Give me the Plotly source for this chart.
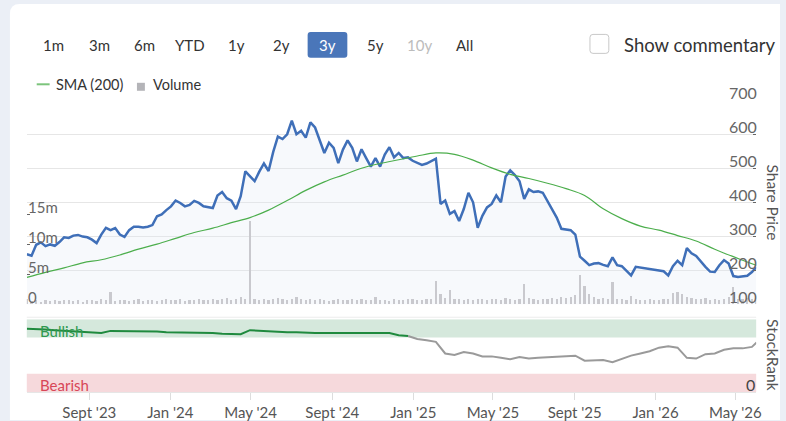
import pandas as pd
import plotly.graph_objects as go

W, H = 786, 421

# ---------------- data ----------------
dates = pd.date_range("2023-05-30", periods=158, freq="7D")

price = [247, 243, 275, 282, 271, 276, 272, 283, 297, 295,
         302, 304, 299, 297, 290, 280, 305, 325, 318, 324,
         305, 298, 318, 328, 328, 326, 328, 333, 359, 364,
         377, 388, 405, 398, 388, 392, 404, 398, 388, 385,
         383, 420, 430, 412, 405, 380, 418, 491, 478, 462,
         490, 514, 492, 548, 593, 586, 600, 640, 600, 610,
         590, 635, 620, 585, 545, 575, 560, 515, 555, 582,
         560, 520, 556, 530, 505, 530, 505, 540, 562, 532,
         545, 530, 532, 522, 515, 510, 514, 520, 528, 395,
         405, 366, 374, 345, 380, 428, 400, 325, 360, 385,
         395, 420, 400, 476, 494, 480, 462, 410, 438, 430,
         432, 428, 405, 380, 355, 322, 320, 318, 305, 240,
         228, 215, 220, 221, 216, 212, 238, 215, 212, 198,
         185, 210, 208, 205, 203, 202, 200, 197, 185, 212,
         228, 215, 265, 250, 242, 225, 210, 196, 195, 215,
         230, 220, 183, 180, 182, 184, 195, 210]

volume_m = [0.8, 0.5, 0.6, 0.4, 0.7, 0.5, 0.6, 0.5, 0.7, 0.6,
            0.5, 0.6, 0.4, 0.7, 0.6, 0.5, 0.8, 0.6, 2.0, 0.5,
            0.6, 0.7, 0.5, 0.6, 0.8, 0.5, 0.6, 0.7, 0.5, 0.6,
            0.9, 0.7, 0.6, 0.8, 0.5, 0.7, 0.6, 0.8, 0.7, 0.6,
            0.9, 0.7, 0.8, 1.0, 0.7, 0.8, 1.1, 0.9, 13.8, 0.8,
            0.7, 0.9, 0.6, 0.8, 1.0, 0.8, 0.7, 0.9, 1.2, 0.8,
            0.7, 0.9, 0.6, 0.8, 0.7, 0.5, 0.6, 0.8, 0.7, 0.6,
            0.9, 0.7, 0.8, 0.6, 0.7, 1.2, 0.6, 0.7, 0.5, 0.8,
            0.6, 0.7, 0.9, 0.8, 0.7, 0.6, 0.8, 0.9, 3.8, 1.6,
            1.0, 2.3, 0.8, 0.9, 0.7, 0.8, 0.6, 0.9, 0.8, 0.7,
            0.8, 0.9, 0.7, 1.0, 0.8, 0.7, 0.9, 3.3, 1.0, 0.8,
            0.7, 0.9, 0.8, 1.0, 0.9, 1.1, 1.0, 1.2, 1.5, 4.8,
            3.0, 1.6, 1.2, 0.9, 1.0, 0.8, 3.7, 0.9, 0.8, 0.7,
            1.3, 0.8, 0.7, 0.6, 0.8, 0.7, 0.6, 0.9, 0.8, 1.8,
            2.0, 1.6, 1.2, 1.0, 0.9, 0.8, 1.0, 0.7, 0.8, 0.6,
            0.9, 1.1, 2.8, 0.9, 0.8, 1.0, 0.9, 0.7]

sma_dates = list(dates[::4]) + [dates[-1]]
sma200 = [179, 194, 207, 222, 231, 245, 262, 277, 294, 311,
          324, 340, 355, 377, 405, 435, 460, 480, 500, 514,
          525, 536, 545, 541, 524, 501, 482, 470, 456, 440,
          420, 381, 352, 330, 318, 302, 286, 262, 240, 219, 214]

rank_dates = list(dates[::2]) + [dates[-1]]
stockrank = [87, 87, 86, 85, 84, 83, 83, 82, 81, 84,
             84, 84, 84, 84, 83, 82, 82, 82, 81, 81,
             81, 80, 79.5, 79.5, 85, 84, 84, 83, 82, 82,
             81, 81, 81, 81, 82, 82, 82, 82, 82, 81,
             78, 77, 73, 71, 69, 53, 51, 55, 53, 49,
             49, 47, 45, 48, 46, 47, 48, 49, 50, 50,
             43, 43, 44, 41, 46, 50, 53, 56, 61, 63,
             61, 47, 46, 52, 53, 58, 60, 60, 62, 68]
bullish_end = 41  # last index drawn in green

x_tick_dates = ["2023-09-01", "2024-01-01", "2024-05-01", "2024-09-01", "2025-01-01",
                "2025-05-01", "2025-09-01", "2026-01-01", "2026-05-01"]
x_tick_text = ["Sept '23", "Jan '24", "May '24", "Sept '24", "Jan '25",
               "May '25", "Sept '25", "Jan '26", "May '26"]
price_ticks = [100, 200, 300, 400, 500, 600, 700]
volume_ticks = [0, 5e6, 10e6, 15e6]
volume_tick_text = ["0", "5m", "10m", "15m"]
buttons = ["1m", "3m", "6m", "YTD", "1y", "2y", "3y", "5y", "10y", "All"]
button_x = [54, 100, 146, 191.5, 238.5, 284, 330, 378.5, 423, 468]

X_RANGE = ["2023-05-29 20:00", "2026-06-01 10:00"]


def px(x):
    return x / W


def py(y):
    return 1 - y / H


def rrect(x0, y0, x1, y1, r):
    return (f"M {px(x0 + r)},{py(y0)} L {px(x1 - r)},{py(y0)} "
            f"Q {px(x1)},{py(y0)} {px(x1)},{py(y0 + r)} L {px(x1)},{py(y1 - r)} "
            f"Q {px(x1)},{py(y1)} {px(x1 - r)},{py(y1)} L {px(x0 + r)},{py(y1)} "
            f"Q {px(x0)},{py(y1)} {px(x0)},{py(y1 - r)} L {px(x0)},{py(y0 + r)} "
            f"Q {px(x0)},{py(y0)} {px(x0 + r)},{py(y0)} Z")


FONT = "Lato, 'Open Sans', sans-serif"

fig = go.Figure()

# price
fig.add_trace(go.Scatter(x=dates, y=price, mode="lines",
                         line=dict(color="#3f6fb8", width=2.5),
                         fill="tozeroy", fillcolor="rgba(225,232,245,0.25)",
                         xaxis="x", yaxis="y", hoverinfo="skip"))
fig.add_trace(go.Scatter(x=sma_dates, y=sma200, mode="lines",
                         line=dict(color="#4cae4c", width=1.2, shape="spline"),
                         xaxis="x", yaxis="y", hoverinfo="skip"))
# volume
fig.add_trace(go.Bar(x=dates, y=[v * 1e6 for v in volume_m],
                     width=2.6 * 86400000, marker=dict(color="#c9c9ce", line=dict(width=0)),
                     xaxis="x", yaxis="y2", hoverinfo="skip"))
# stockrank
fig.add_trace(go.Scatter(x=rank_dates[bullish_end:], y=stockrank[bullish_end:], mode="lines",
                         line=dict(color="#9a9a9a", width=2),
                         xaxis="x2", yaxis="y3", hoverinfo="skip"))
fig.add_trace(go.Scatter(x=rank_dates[:bullish_end + 1], y=stockrank[:bullish_end + 1], mode="lines",
                         line=dict(color="#1f8a3e", width=2),
                         xaxis="x2", yaxis="y3", hoverinfo="skip"))

shapes = []
# card
shapes.append(dict(type="path", xref="paper", yref="paper", layer="below",
                   path=(f"M {px(10)},{py(421)} L {px(10)},{py(14)} Q {px(10)},{py(4)} {px(20)},{py(4)} "
                         f"L {px(786)},{py(4)} L {px(786)},{py(421)} Z"),
                   fillcolor="white", line=dict(width=0)))
# bands
shapes.append(dict(type="rect", xref="paper", yref="y3", x0=px(27), x1=px(762), y0=75, y1=100,
                   fillcolor="#d5e8dc", line=dict(width=0), layer="below"))
shapes.append(dict(type="rect", xref="paper", yref="y3", x0=px(27), x1=px(762), y0=0, y1=25,
                   fillcolor="#f6d9dc", line=dict(width=0), layer="below"))
# separator line
shapes.append(dict(type="line", xref="paper", yref="paper", x0=px(27), x1=px(762), y0=py(318), y1=py(318),
                   line=dict(color="#ececec", width=1)))
# 3y button
shapes.append(dict(type="path", xref="paper", yref="paper", path=rrect(310, 32, 350, 58, 3),
                   fillcolor="#4a76b9", line=dict(width=0)))
# checkbox
shapes.append(dict(type="path", xref="paper", yref="paper", path=rrect(594.5, 34.5, 613.5, 53.5, 3),
                   fillcolor="white", line=dict(color="#c8c8c8", width=1)))
# legend marks
shapes.append(dict(type="line", xref="paper", yref="paper", x0=px(37), x1=px(50), y0=py(84.5), y1=py(84.5),
                   line=dict(color="#7cc47c", width=2)))
shapes.append(dict(type="rect", xref="paper", yref="paper", x0=px(138), x1=px(146), y0=py(83), y1=py(91),
                   fillcolor="#b4b4b8", line=dict(width=0)))

ann = []
for lab, bx in zip(buttons, button_x):
    col = "#ffffff" if lab == "3y" else ("#bcbcbc" if lab == "10y" else "#333333")
    ann.append(dict(text=lab, x=px(bx), y=py(45.5), xref="paper", yref="paper", showarrow=False,
                    xanchor="center", yanchor="middle", font=dict(family=FONT, size=15, color=col)))
ann.append(dict(text="Show commentary", x=px(627), y=py(45.5), xref="paper", yref="paper", showarrow=False,
                xanchor="left", yanchor="middle", font=dict(family=FONT, size=18.5, color="#333333")))
ann.append(dict(text="SMA (200)", x=px(54), y=py(84.5), xref="paper", yref="paper", showarrow=False,
                xanchor="left", yanchor="middle", font=dict(family=FONT, size=14.5, color="#333333")))
ann.append(dict(text="Volume", x=px(152), y=py(84.5), xref="paper", yref="paper", showarrow=False,
                xanchor="left", yanchor="middle", font=dict(family=FONT, size=14.5, color="#333333")))
for t in price_ticks:
    ann.append(dict(text=str(t), x=px(765), y=t, xref="paper", yref="y", showarrow=False,
                    xanchor="right", yanchor="middle", yshift=8,
                    font=dict(family=FONT, size=16, color="#666666")))
for v, t in zip(volume_ticks, volume_tick_text):
    ann.append(dict(text=t, x=px(26), y=v, xref="paper", yref="y2", showarrow=False,
                    xanchor="left", yanchor="middle", yshift=7,
                    font=dict(family=FONT, size=15, color="#666666")))
ann.append(dict(text="0", x=px(763), y=0, xref="paper", yref="y3", showarrow=False,
                xanchor="right", yanchor="middle", yshift=8,
                font=dict(family=FONT, size=16, color="#444444")))
ann.append(dict(text="Bullish", x=px(38), y=py(332), xref="paper", yref="paper", showarrow=False,
                xanchor="left", yanchor="middle", font=dict(family=FONT, size=15, color="#2f9950")))
ann.append(dict(text="Bearish", x=px(38), y=py(386), xref="paper", yref="paper", showarrow=False,
                xanchor="left", yanchor="middle", font=dict(family=FONT, size=15, color="#d84657")))
ann.append(dict(text="Share Price", x=px(779), y=py(203), xref="paper", yref="paper", showarrow=False,
                textangle=90, xanchor="center", yanchor="middle",
                font=dict(family=FONT, size=15.5, color="#555555")))
ann.append(dict(text="StockRank", x=px(779), y=py(356), xref="paper", yref="paper", showarrow=False,
                textangle=90, xanchor="center", yanchor="middle",
                font=dict(family=FONT, size=15.5, color="#555555")))

fig.update_layout(
    width=W, height=H, margin=dict(l=0, r=0, t=0, b=0),
    paper_bgcolor="#ebeff6", plot_bgcolor="rgba(0,0,0,0)",
    showlegend=False, bargap=0, shapes=shapes, annotations=ann,
    font=dict(family=FONT),
    xaxis=dict(domain=[px(27), px(762)], range=X_RANGE, anchor="y", type="date",
               showticklabels=False, showgrid=False, zeroline=False, ticks=""),
    yaxis=dict(domain=[py(305), py(100.5)], range=[100, 700], anchor="x", side="right",
               tickvals=price_ticks, showticklabels=False, showgrid=True, gridcolor="#e6e6e6",
               gridwidth=1, zeroline=False, ticks="inside", ticklen=3, tickcolor="#666666"),
    yaxis2=dict(overlaying="y", side="left", anchor="x", range=[0, 34.08e6],
                tickvals=volume_ticks, showticklabels=False, showgrid=False, zeroline=False,
                ticks="inside", ticklen=3, tickcolor="#666666"),
    xaxis2=dict(domain=[px(27), px(762)], range=X_RANGE, anchor="y3", type="date",
                tickvals=x_tick_dates, ticktext=x_tick_text, ticks="outside", ticklen=7,
                tickcolor="#dddddd", showline=True, linecolor="#e6e6e6", showgrid=False,
                zeroline=False, tickfont=dict(family=FONT, size=15, color="#555555")),
    yaxis3=dict(domain=[py(393), py(320)], range=[0, 100], anchor="x2", side="right",
                showticklabels=False, showgrid=False, zeroline=False, ticks=""),
)

fig.write_html("out.html")
